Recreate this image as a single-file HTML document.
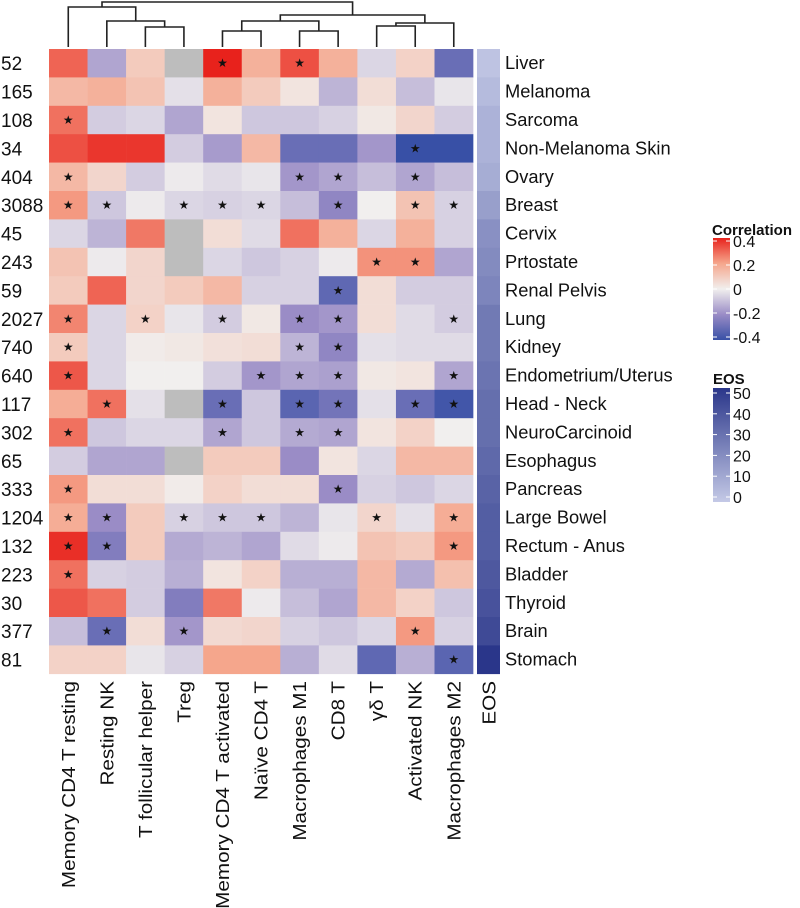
<!DOCTYPE html>
<html><head><meta charset="utf-8"><style>
body{margin:0;background:#fff;}
svg{display:block;font-family:"Liberation Sans",Arial,sans-serif;}
</style></head><body>
<svg id="chart" width="800" height="908" viewBox="0 0 800 908" xmlns="http://www.w3.org/2000/svg"></svg>
<script>
const columns=["Memory CD4 T resting","Resting  NK","T follicular helper","Treg","Memory CD4 T activated","Naïve CD4 T","Macrophages M1","CD8 T","γδ T","Activated NK","Macrophages M2"];
const rowCounts=["52","165","108","34","404","3088","45","243","59","2027","740","640","117","302","65","333","1204","132","223","30","377","81"];
const rowNames=["Liver","Melanoma","Sarcoma","Non-Melanoma Skin","Ovary","Breast","Cervix","Prtostate","Renal Pelvis","Lung","Kidney","Endometrium/Uterus","Head - Neck","NeuroCarcinoid","Esophagus","Pancreas","Large Bowel","Rectum - Anus","Bladder","Thyroid","Brain","Stomach"];
const N=null;
const corr=[
[.3,-.15,.1,N,.4,.17,.33,.17,-.05,.08,-.3],
[.15,.17,.12,-.03,.17,.1,.03,-.12,.05,-.1,-.02],
[.28,-.07,-.05,-.15,.03,-.08,-.08,-.06,.02,.07,-.07],
[.33,.37,.37,-.07,-.17,.15,-.3,-.3,-.18,-.4,-.4],
[.15,.07,-.07,-.01,-.04,-.02,-.18,-.15,-.1,-.15,-.1],
[.22,-.08,-.01,-.05,-.06,-.05,-.1,-.22,0,.12,-.06],
[-.05,-.12,.27,N,.05,-.04,.28,.17,-.05,.17,-.06],
[.12,-.01,.07,N,-.05,-.08,-.06,-.01,.23,.23,-.15],
[.1,.3,.07,.1,.15,-.06,-.06,-.32,.05,-.07,-.07],
[.25,-.05,.08,-.02,-.07,.02,-.2,-.18,.05,-.04,-.07],
[.1,-.05,.01,.02,.04,.05,-.12,-.22,-.03,-.04,-.04],
[.32,-.05,0,0,-.07,-.18,-.15,-.16,.02,.03,-.15],
[.18,.28,-.03,N,-.3,-.08,-.33,-.28,-.03,-.3,-.38],
[.28,-.08,-.05,-.05,-.15,-.08,-.14,-.15,.03,.08,0],
[-.07,-.15,-.15,N,.1,.1,-.2,.03,-.05,.15,.15],
[.22,.05,.05,.01,.08,.05,.05,-.2,-.06,-.08,-.05],
[.18,-.2,.1,-.06,-.08,-.08,-.12,-.02,.07,-.03,.18],
[.38,-.25,.1,-.14,-.12,-.15,-.04,-.01,.12,.1,.22],
[.28,-.06,-.07,-.13,.03,.08,-.13,-.13,.15,-.14,.13],
[.32,.28,-.07,-.25,.27,-.01,-.1,-.15,.15,.08,-.08],
[-.1,-.3,.05,-.18,.06,.07,-.06,-.08,-.05,.22,-.06],
[.08,.08,-.02,-.06,.2,.2,-.13,-.04,-.32,-.13,-.33]];
const stars=[
[0,0,0,0,1,0,1,0,0,0,0],[0,0,0,0,0,0,0,0,0,0,0],[1,0,0,0,0,0,0,0,0,0,0],[0,0,0,0,0,0,0,0,0,1,0],
[1,0,0,0,0,0,1,1,0,1,0],[1,1,0,1,1,1,0,1,0,1,1],[0,0,0,0,0,0,0,0,0,0,0],[0,0,0,0,0,0,0,0,1,1,0],
[0,0,0,0,0,0,0,1,0,0,0],[1,0,1,0,1,0,1,1,0,0,1],[1,0,0,0,0,0,1,1,0,0,0],[1,0,0,0,0,1,1,1,0,0,1],
[0,1,0,0,1,0,1,1,0,1,1],[1,0,0,0,1,0,1,1,0,0,0],[0,0,0,0,0,0,0,0,0,0,0],[1,0,0,0,0,0,0,1,0,0,0],
[1,1,0,1,1,1,0,0,1,0,1],[1,1,0,0,0,0,0,0,0,0,1],[1,0,0,0,0,0,0,0,0,0,0],[0,0,0,0,0,0,0,0,0,0,0],
[0,1,0,1,0,0,0,0,0,1,0],[0,0,0,0,0,0,0,0,0,0,1]];
const eos=[2,5,8,8,10,15,20,22,24,28,28,30,32,32,34,36,38,38,40,42,45,52];
const corrTicks=[0.4,0.2,0,-0.2,-0.4];
const eosTicks=[50,40,30,20,10,0];
// dendrogram merges: [a,b,height] ; leaves are column indices, internal nodes numbered 11+
const merges=[[2,3,27],[1,11,21],[0,12,7],[4,5,31],[6,7,31],[14,15,21],[8,9,26],[17,10,23],[16,18,15],[13,19,2]];

const svg=document.getElementById('chart');
const NS='http://www.w3.org/2000/svg';
function mk(t,a,p){const e=document.createElementNS(NS,t);for(const k in a)e.setAttribute(k,a[k]);(p||svg).appendChild(e);return e;}
const X0=49,CW=38.55,Y0=49,RH=28.4;
const xc=i=>X0+CW*i, yr=j=>Y0+RH*j;
function lerp(a,b,t){return a.map((v,i)=>Math.round(v+(b[i]-v)*t));}
const cstops=[[-0.4,[56,80,166]],[-0.2,[154,140,198]],[0,[241,239,238]],[0.2,[245,166,140]],[0.4,[232,34,28]]];
function ccol(v){if(v===null)return'#bdbdbd';v=Math.max(-0.4,Math.min(0.4,v));for(let i=0;i<cstops.length-1;i++){if(v<=cstops[i+1][0]){const t=(v-cstops[i][0])/(cstops[i+1][0]-cstops[i][0]);return 'rgb('+lerp(cstops[i][1],cstops[i+1][1],t).join(',')+')';}}return 'rgb(232,34,28)';}
function ecol(v){const t=Math.max(0,Math.min(1,v/52));return 'rgb('+lerp([196,201,230],[42,54,138],t).join(',')+')';}

const g=mk('g',{});

corr.forEach((row,j)=>row.forEach((v,i)=>{
  const r=mk('rect',{x:xc(i),y:yr(j),width:CW+0.3,height:RH+0.3,fill:ccol(v)},g);
  
  
  if(stars[j][i]){const s=mk('text',{x:xc(i)+CW/2,y:yr(j)+RH/2+4,'text-anchor':'middle','font-size':12,fill:'#111'},g);s.textContent='★';
  
  }
}));
eos.forEach((v,j)=>{const r=mk('rect',{x:477,y:yr(j),width:23,height:RH+0.3,fill:ecol(v)});
  
  });
rowCounts.forEach((t,j)=>{const e=mk('text',{x:1,y:yr(j)+RH/2+7,'font-size':19,fill:'#111'});e.textContent=t;
  
  });
rowNames.forEach((t,j)=>{const e=mk('text',{x:505,y:yr(j)+RH/2+6,'font-size':18.3,fill:'#111'});e.textContent=t;
  
  });
columns.concat(['EOS']).forEach((t,i)=>{const x=i<11?xc(i)+CW/2+6.5:489+6.5;const e=mk('text',{x:0,y:0,'font-size':18.3,fill:'#111','text-anchor':'end',transform:'translate('+x+' 681) rotate(-90) scale(1.13 1)'});e.textContent=t;
  
  });
// dendrogram
const pos={},ht={};for(let i=0;i<11;i++){pos[i]=xc(i)+CW/2;ht[i]=47;}
const dg=mk('g',{stroke:'#222','stroke-width':1.6,fill:'none'});


merges.forEach((m,k)=>{const id=11+k,[a,b,h]=m;
  mk('path',{d:`M${pos[a]},${ht[a]}V${h}H${pos[b]}V${ht[b]}`},dg);
  pos[id]=(pos[a]+pos[b])/2;ht[id]=h;});
// legends
const defs=mk('defs',{});
const lg1=mk('linearGradient',{id:'gc',x1:0,y1:0,x2:0,y2:1},defs);
[[0,'#e8221c'],[0.25,'#f5a68c'],[0.5,'#f1efee'],[0.75,'#9a8cc6'],[1,'#3850a6']].forEach(s=>mk('stop',{offset:s[0],'stop-color':s[1]},lg1));
const lg2=mk('linearGradient',{id:'ge',x1:0,y1:0,x2:0,y2:1},defs);
[[0,'#2a368a'],[1,'#c4c9e6']].forEach(s=>mk('stop',{offset:s[0],'stop-color':s[1]},lg2));
let t=mk('text',{x:712,y:235,'font-size':15,'font-weight':'bold',fill:'#111'});t.textContent='Correlation';

let r=mk('rect',{x:713,y:238,width:17,height:102,fill:'url(#gc)'});

const cy=v=>241+(0.4-v)/0.8*96;
corrTicks.forEach(v=>{mk('line',{x1:713,x2:717,y1:cy(v),y2:cy(v),stroke:'#fff','stroke-width':1});mk('line',{x1:726,x2:730,y1:cy(v),y2:cy(v),stroke:'#fff','stroke-width':1});
  const e=mk('text',{x:733,y:cy(v)+6,'font-size':16,fill:'#111'});e.textContent=v===0?'0':v.toFixed(1);
  });
t=mk('text',{x:713,y:384,'font-size':15,'font-weight':'bold',fill:'#111'});t.textContent='EOS';

r=mk('rect',{x:713,y:388,width:17,height:114,fill:'url(#ge)'});

const ey=v=>497-v/50*104;
eosTicks.forEach(v=>{mk('line',{x1:713,x2:717,y1:ey(v),y2:ey(v),stroke:'#fff','stroke-width':1});mk('line',{x1:726,x2:730,y1:ey(v),y2:ey(v),stroke:'#fff','stroke-width':1});
  const e=mk('text',{x:733,y:ey(v)+6,'font-size':16,fill:'#111'});e.textContent=String(v);
  });
</script>
</body></html>
